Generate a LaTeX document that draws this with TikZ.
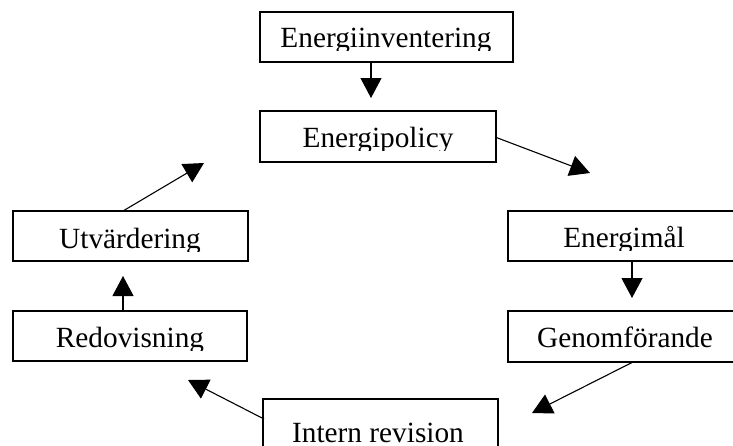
\documentclass[tikz,border=0pt]{standalone}
\usepackage{fontspec}
\setmainfont{Liberation Serif}
\usetikzlibrary{arrows.meta}
\tikzset{
  boxframe/.style={draw=black, line width=1.1pt, fill=white},
  boxlabel/.style={anchor=base, inner sep=0pt, font=\fontsize{29.3}{31}\selectfont},
  flow/.style={line width=1.1pt, -{Triangle[length=20pt,width=21pt]}}
}
% #1 name, #2 x1, #3 y1, #4 x2, #5 y2, #6 text centre x, #7 baseline y, #8 text
\newcommand{\drawbox}[8]{%
  \path[boxframe] (#2,#3) rectangle (#4,#5);
  \coordinate (#1-nw) at (#2,#3);
  \coordinate (#1-se) at (#4,#5);
  \begin{scope}
    \clip (#2,#3) rectangle (#4,#7+3);
    \node[boxlabel] (#1) at (#6,#7) {#8};
  \end{scope}
}
\begin{document}
\begin{tikzpicture}[x=1pt,y=-1pt]
\useasboundingbox (0,0) rectangle (733,445);
\fill[white] (0,0) rectangle (733,445);

\drawbox{inv}{260}{12}{513}{62}{386}{47}{Energiinventering}
\drawbox{pol}{260}{111}{496}{162}{378}{147}{Energipolicy}
\drawbox{mal}{508}{211}{741}{261}{624}{247}{Energimål}
\drawbox{gen}{508}{311}{741}{362}{625}{347}{Genomförande}
\drawbox{rev}{263}{399}{498}{452}{378}{442}{Intern revision}
\drawbox{red}{13}{311}{247}{361}{130}{347}{Redovisning}
\drawbox{utv}{13}{211}{248}{261}{130}{248}{Utvärdering}

% free ends of the connectors
\coordinate (t1) at (371,98);
\coordinate (t2) at (590,173);
\coordinate (t3) at (632,298);
\coordinate (t4) at (532,413);
\coordinate (t5) at (188,380);
\coordinate (t6) at (123,276);
\coordinate (t7) at (204,163);
\coordinate (s2) at (495,137);
\coordinate (s4) at (633,362);
\coordinate (s5) at (264,419);

\draw[flow] (inv-se -| t1) -- (t1);
\draw[flow] (s2) -- (t2);
\draw[flow] (mal-se -| t3) -- (t3);
\draw[flow] (s4) -- (t4);
\draw[flow] (s5) -- (t5);
\draw[flow] (red-nw -| t6) -- (t6);
\draw[flow] (utv-nw -| t6) -- (t7);
\end{tikzpicture}
\end{document}
